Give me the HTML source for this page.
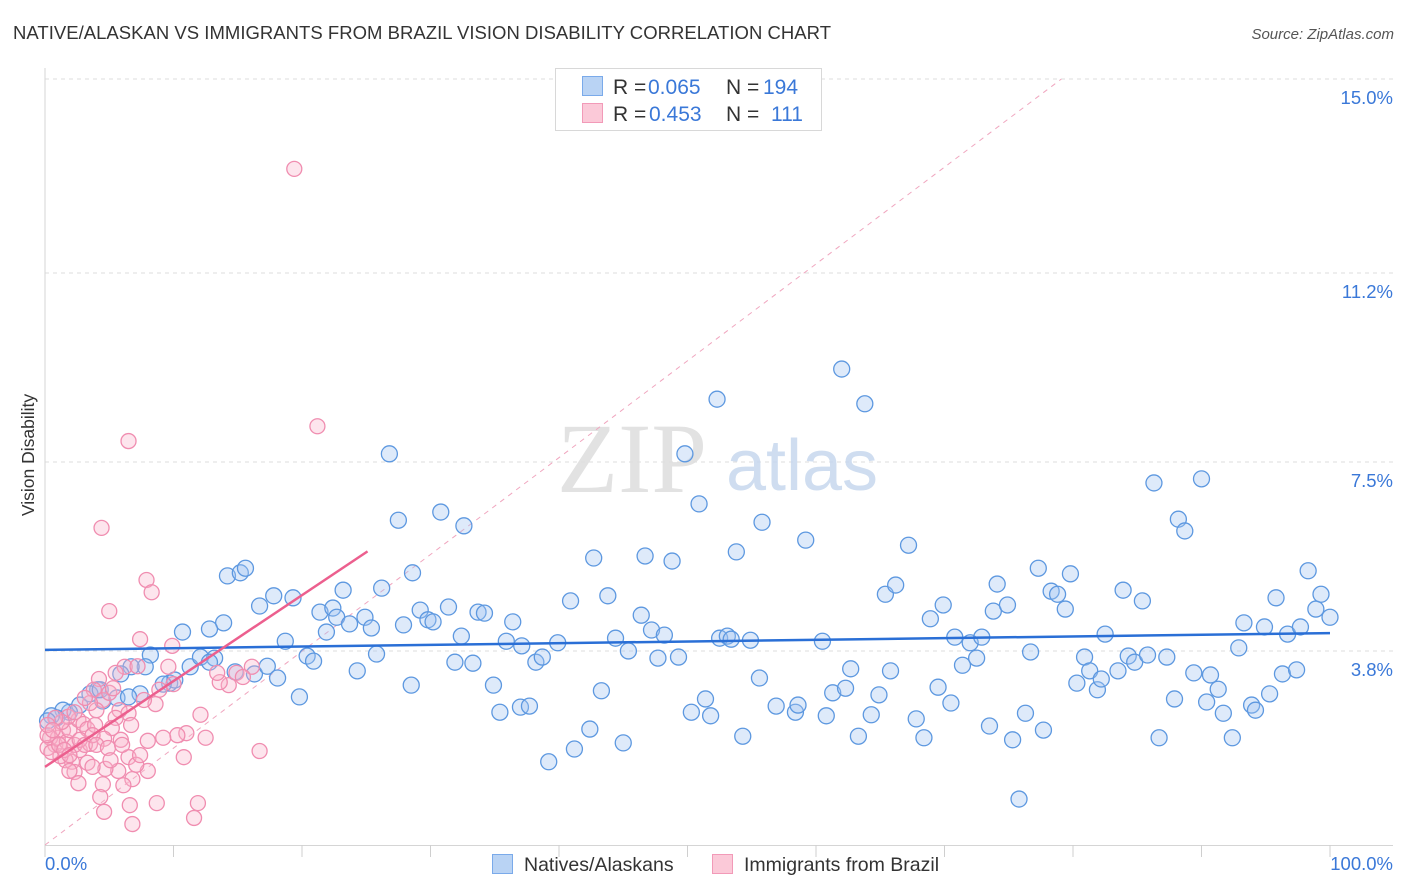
<!DOCTYPE html>
<html><head><meta charset="utf-8">
<style>
html,body{margin:0;padding:0;background:#fff;}
body{width:1406px;height:892px;overflow:hidden;font-family:"Liberation Sans",sans-serif;}
</style></head>
<body>
<svg id="chart" width="1406" height="892" xmlns="http://www.w3.org/2000/svg" style="position:absolute;left:0;top:0">
  <text x="13" y="39" font-size="18.5" fill="#333" textLength="818" font-family="Liberation Sans, sans-serif">NATIVE/ALASKAN VS IMMIGRANTS FROM BRAZIL VISION DISABILITY CORRELATION CHART</text>
  <text x="1394" y="39" font-size="15" fill="#555" font-style="italic" text-anchor="end">Source: ZipAtlas.com</text>
  <g id="grid"></g>
  <g>
    <text x="632" y="492" font-size="100" fill="#dddddd" font-family="Liberation Serif, serif" text-anchor="middle" opacity="0.85">ZIP</text>
    <text x="802" y="490" font-size="72" fill="#c7d8ee" text-anchor="middle" opacity="0.85">atlas</text>
  </g>
  <text transform="translate(34,455) rotate(-90)" font-size="17.5" fill="#333" text-anchor="middle">Vision Disability</text>
  <g id="ylabels"></g>
  <g id="xaxis"></g>
  <g id="marks"></g>
  <g font-size="21">
    <rect x="555.5" y="68.5" width="266" height="62" fill="#fff" stroke="#d8d8d8"/>
    <rect x="582.5" y="76.5" width="20" height="19" fill="#b9d3f4" stroke="#7aaaea"/>
    <rect x="582.5" y="103.5" width="20" height="19" fill="#fbc9d8" stroke="#f29ab8"/>
    <text x="613" y="94" fill="#333">R =</text>
    <text x="648" y="94" fill="#3a78d8">0.065</text>
    <text x="726" y="94" fill="#333">N =</text>
    <text x="763" y="94" fill="#3a78d8">194</text>
    <text x="613" y="121" fill="#333">R =</text>
    <text x="649" y="121" fill="#3a78d8">0.453</text>
    <text x="726" y="121" fill="#333">N =</text>
    <text x="771" y="121" fill="#3a78d8">111</text>
  </g>
  <g>
    <rect x="492.5" y="854.5" width="20" height="19" fill="#b9d3f4" stroke="#7aaaea"/>
    <text x="524" y="871" font-size="19.5" fill="#333">Natives/Alaskans</text>
    <rect x="712.5" y="854.5" width="20" height="19" fill="#fbc9d8" stroke="#f29ab8"/>
    <text x="744" y="871" font-size="19.5" fill="#333">Immigrants from Brazil</text>
  </g>
</svg>
<script>
const yTicks=[3.8,7.5,11.2,15.0];
const yTickLabels=["3.8%","7.5%","11.2%","15.0%"];
const xTicks=[0,10,20,30,40,50,60,70,80,90,100];
const xEndLabels=["0.0%","100.0%"];
const blueX=[62.0,63.8,52.3,49.8,26.8,50.9,86.3,90.0,88.2,88.7,55.8,59.2,53.8,67.2,42.7,46.7,48.8,27.5,30.8,32.6,28.6,23.2,19.3,14.2,15.2,15.6,17.8,16.7,13.9,10.7,8.2,7.8,6.7,5.9,4.1,4.5,2.7,1.9,1.4,0.9,0.5,0.2,5.6,7.4,9.7,10.1,11.3,12.1,13.2,12.8,14.8,16.3,17.3,18.1,19.8,18.7,20.4,20.9,21.4,21.9,22.4,22.7,23.7,24.3,24.9,25.4,25.8,26.2,27.9,28.5,29.2,29.8,30.2,31.4,31.9,32.4,33.3,33.7,34.2,34.9,35.4,35.9,36.4,37.0,37.1,37.7,38.2,38.7,39.2,39.9,40.9,41.2,42.4,43.3,43.8,44.4,45.0,45.4,46.4,47.2,47.7,48.2,49.3,50.3,51.4,51.8,52.5,53.1,53.4,54.3,54.9,55.6,56.9,58.4,58.6,60.5,60.8,61.3,62.3,62.7,63.3,64.3,64.9,65.4,65.8,66.2,67.8,68.4,68.9,69.5,69.9,70.5,70.8,71.4,72.0,72.5,72.9,73.5,73.8,74.1,74.9,75.3,75.8,76.3,76.7,77.3,77.7,78.3,78.8,79.4,79.8,80.3,80.9,81.3,81.9,82.2,82.5,83.5,83.9,84.3,84.8,85.4,85.8,86.7,87.3,87.9,89.4,90.4,90.7,91.3,91.7,92.4,92.9,93.3,93.9,94.2,94.9,95.3,95.8,96.3,96.7,97.4,97.7,98.3,98.9,99.3,100.0,12.8,9.2,3.5,4.3,6.5];
const blueY=[9.32,8.64,8.73,7.66,7.66,6.68,7.09,7.17,6.38,6.15,6.32,5.97,5.74,5.87,5.62,5.66,5.56,6.36,6.52,6.25,5.33,4.99,4.84,5.27,5.33,5.42,4.88,4.68,4.35,4.17,3.72,3.49,3.49,3.35,3.04,2.82,2.74,2.60,2.64,2.49,2.53,2.43,2.88,2.96,3.17,3.23,3.49,3.68,3.66,3.58,3.39,3.35,3.50,3.27,2.90,3.99,3.70,3.60,4.56,4.17,4.64,4.46,4.33,3.41,4.46,4.25,3.74,5.03,4.31,3.13,4.60,4.41,4.37,4.66,3.58,4.09,3.56,4.56,4.54,3.13,2.60,3.99,4.37,2.70,3.90,2.72,3.58,3.68,1.63,3.96,4.78,1.88,2.27,3.02,4.88,4.05,2.00,3.80,4.50,4.21,3.66,4.11,3.68,2.60,2.86,2.53,4.05,4.09,4.03,2.13,4.01,3.27,2.72,2.60,2.74,3.99,2.53,2.98,3.07,3.45,2.13,2.55,2.94,4.91,3.41,5.09,2.47,2.10,4.43,3.09,4.70,2.78,4.07,3.52,3.96,3.66,4.07,2.33,4.58,5.11,4.70,2.06,0.90,2.58,3.78,5.42,2.25,4.97,4.91,4.62,5.31,3.17,3.68,3.41,3.04,3.25,4.13,3.41,4.99,3.70,3.58,4.78,3.72,2.10,3.68,2.86,3.37,2.80,3.33,3.05,2.58,2.10,3.86,4.35,2.74,2.64,4.27,2.96,4.84,3.35,4.13,3.43,4.27,5.37,4.62,4.91,4.46,4.23,3.15,2.96,3.04,2.90];
const pinkX=[19.4,21.2,6.5,4.4,7.9,8.3,5.0,7.4,9.9,6.2,7.2,4.2,3.8,4.5,5.0,5.8,6.5,5.5,5.2,5.9,6.7,8.6,8.9,10.0,14.3,13.6,14.9,16.1,12.1,11.0,10.3,9.2,12.5,10.8,8.0,6.5,7.1,6.8,5.7,6.1,4.7,4.5,4.3,3.3,2.7,2.1,2.3,1.6,1.2,0.8,0.4,0.2,0.5,1.0,1.4,1.7,1.9,2.3,2.6,3.0,3.3,3.5,3.9,4.0,4.6,1.8,2.3,1.3,0.8,0.2,0.2,0.6,1.1,1.5,1.9,2.7,3.1,3.7,4.0,4.9,5.1,6.0,6.6,4.6,8.7,11.9,11.6,6.8,16.7,15.4,13.4,9.6,5.5,3.5,3.1,7.7,5.3,3.7,7.4,2.6,8.0,1.9];
const pinkY=[13.24,8.20,7.91,6.21,5.19,4.95,4.58,4.03,3.90,3.49,3.50,3.25,3.04,2.84,2.98,2.64,2.58,2.49,2.29,2.06,2.35,2.76,3.04,3.15,3.13,3.19,3.37,3.49,2.55,2.19,2.15,2.10,2.10,1.72,1.45,1.72,1.57,1.29,1.45,1.17,1.49,1.19,0.94,1.61,1.86,1.63,1.43,1.66,1.74,1.96,2.10,1.90,1.82,2.10,2.25,2.02,2.25,1.96,2.45,2.37,2.27,1.98,2.35,2.64,2.08,2.51,2.60,2.41,2.49,2.15,2.35,2.25,1.96,1.86,1.76,2.06,1.96,2.15,1.96,1.90,1.66,1.96,0.78,0.65,0.82,0.82,0.53,0.41,1.84,3.29,3.37,3.49,3.37,2.78,2.88,2.84,3.07,1.53,1.76,1.21,2.04,1.45];
const blueTrendX=[0,100];
const blueTrendY=[3.82,4.15];
const pinkTrendX=[0,25.1];
const pinkTrendY=[1.53,5.75];
const refLineX=[0,79.1];
const refLineY=[0,15];

const X0=45,X1=1330,Y0=845,Y15=79;
const sx=v=>X0+(X1-X0)*v/100;
const sy=v=>Y0-(Y0-Y15)*v/15;
const NS="http://www.w3.org/2000/svg";
function mk(tag,attrs,parent){const e=document.createElementNS(NS,tag);for(const k in attrs)e.setAttribute(k,attrs[k]);parent.appendChild(e);return e;}

const grid=document.getElementById('grid');
yTicks.forEach((t,i)=>{
  const l=mk('line',{x1:45,x2:1393,y1:sy(t),y2:sy(t),stroke:'#dedede','stroke-dasharray':'4,4'},grid);
  
  
  const tx=mk('text',{x:1393,y:sy(t)+25,'font-size':18.5,fill:'#3a78d8','text-anchor':'end'},document.getElementById('ylabels'));
  tx.textContent=yTickLabels[i];
  
  
});
const xa=document.getElementById('xaxis');
mk('line',{x1:45,x2:45,y1:68,y2:845,stroke:'#d5d5d5'},xa);
mk('line',{x1:45,x2:1393,y1:845.5,y2:845.5,stroke:'#d5d5d5'},xa);
xTicks.forEach(t=>{
  const l=mk('line',{x1:sx(t),x2:sx(t),y1:845,y2:857,stroke:'#cfcfcf'},xa);
  
  
});
const xl0=mk('text',{x:45,y:870,'font-size':18.5,fill:'#3a78d8'},xa);xl0.textContent=xEndLabels[0];


const xl1=mk('text',{x:1393,y:870,'font-size':18.5,fill:'#3a78d8','text-anchor':'end'},xa);xl1.textContent=xEndLabels[1];



const marks=document.getElementById('marks');
const ref=mk('line',{x1:sx(refLineX[0]),y1:sy(refLineY[0]),x2:sx(refLineX[1]),y2:sy(refLineY[1]),stroke:'#f0a6bf','stroke-dasharray':'5,5','stroke-width':1},marks);


blueX.forEach((v,i)=>{
  const c=mk('circle',{cx:sx(v),cy:sy(blueY[i]),r:8,fill:'rgba(160,196,240,0.35)',stroke:'#5d98e0','stroke-width':1.3},marks);
  
  
});
pinkX.forEach((v,i)=>{
  const c=mk('circle',{cx:sx(v),cy:sy(pinkY[i]),r:7.5,fill:'rgba(248,180,202,0.35)',stroke:'#f08db0','stroke-width':1.3},marks);
  
  
});
const bt=mk('line',{x1:sx(blueTrendX[0]),y1:sy(blueTrendY[0]),x2:sx(blueTrendX[1]),y2:sy(blueTrendY[1]),stroke:'#2a6fd6','stroke-width':2.5},marks);


const pt=mk('line',{x1:sx(pinkTrendX[0]),y1:sy(pinkTrendY[0]),x2:sx(pinkTrendX[1]),y2:sy(pinkTrendY[1]),stroke:'#ec5f8e','stroke-width':2.5},marks);


</script>
</body></html>
